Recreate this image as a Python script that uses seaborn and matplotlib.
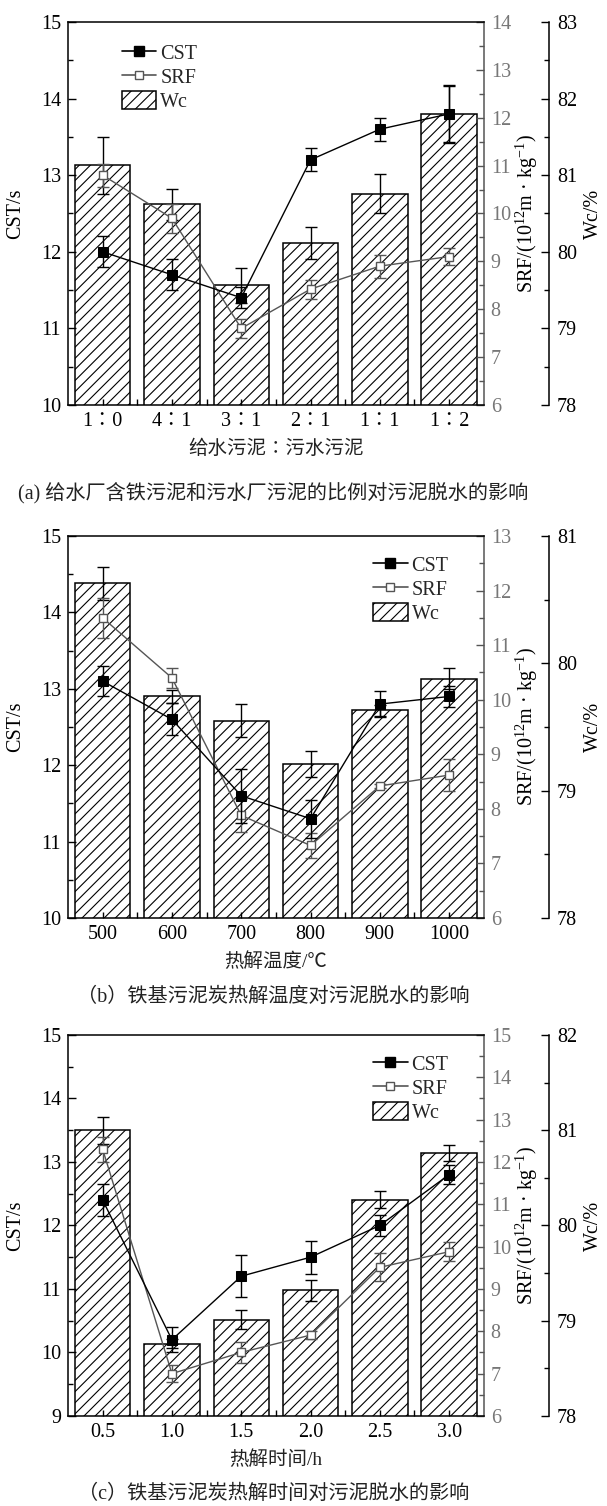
import numpy as np
import matplotlib
matplotlib.use('Agg')
import matplotlib.pyplot as plt
import seaborn as sns
from matplotlib.lines import Line2D
from matplotlib.patches import Patch
from matplotlib.ticker import MultipleLocator

sns.set_theme(style='ticks')
plt.rcParams['font.family'] = ['Liberation Serif', 'Noto Sans CJK SC']
plt.rcParams['mathtext.fontset'] = 'custom'
plt.rcParams['mathtext.rm'] = 'Liberation Serif'
plt.rcParams['mathtext.it'] = 'Liberation Serif:italic'
plt.rcParams['mathtext.default'] = 'rm'
plt.rcParams['hatch.linewidth'] = 0.8
plt.rcParams['hatch.color'] = 'black'

# (a) ratio of water-plant sludge to sewage sludge
ratio_cats = ['1∶0', '4∶1', '3∶1', '2∶1', '1∶1', '1∶2']
ratio_wc = [81.13, 80.62, 79.56, 80.11, 80.76, 81.80]
ratio_wc_err = [0.37, 0.20, 0.23, 0.21, 0.25, 0.38]
ratio_cst = [12.0, 11.7, 11.4, 13.2, 13.6, 13.8]
ratio_cst_err = [0.20, 0.20, 0.14, 0.15, 0.15, 0.37]
ratio_srf = [10.8, 9.9, 7.6, 8.42, 8.9, 9.1]
ratio_srf_err = [0.24, 0.30, 0.20, 0.20, 0.24, 0.17]

# (b) pyrolysis temperature
temp_cats = ['500', '600', '700', '800', '900', '1000']
temp_wc = [80.63, 79.74, 79.55, 79.21, 79.63, 79.88]
temp_wc_err = [0.13, 0.05, 0.13, 0.10, 0.04, 0.08]
temp_cst = [13.1, 12.6, 11.6, 11.3, 12.8, 12.9]
temp_cst_err = [0.20, 0.21, 0.35, 0.25, 0.17, 0.14]
temp_srf = [11.5, 10.4, 7.88, 7.33, 8.42, 8.62]
temp_srf_err = [0.37, 0.19, 0.30, 0.23, 0.03, 0.30]

# (c) pyrolysis time
time_cats = ['0.5', '1.0', '1.5', '2.0', '2.5', '3.0']
time_wc = [81.0, 78.76, 79.01, 79.32, 80.27, 80.76]
time_wc_err = [0.14, 0.05, 0.10, 0.11, 0.09, 0.08]
time_cst = [12.4, 10.2, 11.2, 11.5, 12.0, 12.8]
time_cst_err = [0.25, 0.20, 0.33, 0.26, 0.17, 0.15]
time_srf = [12.3, 7.0, 7.5, 7.91, 9.51, 9.88]
time_srf_err = [0.30, 0.20, 0.25, 0.10, 0.33, 0.22]

srf_color = '#555555'
fs = 14.5


def panel(rect, cats, wc, wc_err, cst, cst_err, srf, srf_err,
          cst_lim, srf_lim, wc_lim, xlabel, leg_loc, leg_anchor):
    ax = fig.add_axes(rect)
    ax_srf = ax.twinx()
    ax_wc = ax.twinx()
    pos = np.arange(len(cats))

    # bars (Wc) on the outer right axis
    sns.barplot(x=pos, y=wc, ax=ax_wc, native_scale=True, color='white', saturation=1,
                edgecolor='black', linewidth=1.1, hatch='///', errorbar=None, width=0.8)
    ax_wc.errorbar(pos, wc, yerr=wc_err, fmt='none', ecolor='black', elinewidth=1,
                   capsize=4, capthick=1)

    # SRF line
    ax_srf.errorbar(pos, srf, yerr=srf_err, fmt='none', ecolor=srf_color, elinewidth=1,
                    capsize=4, capthick=1, zorder=2)
    sns.lineplot(x=pos, y=srf, ax=ax_srf, color=srf_color, marker='s', markersize=5.5,
                 markerfacecolor='white', markeredgecolor=srf_color, markeredgewidth=1,
                 linewidth=1, sort=False, legend=False, zorder=3)

    # CST line
    ax.errorbar(pos, cst, yerr=cst_err, fmt='none', ecolor='black', elinewidth=1,
                capsize=4, capthick=1, zorder=2)
    sns.lineplot(x=pos, y=cst, ax=ax, color='black', marker='s', markersize=7,
                 markerfacecolor='black', markeredgecolor='black', linewidth=1,
                 sort=False, legend=False, zorder=3)

    ax_wc.set_zorder(1)
    ax_srf.set_zorder(2)
    ax.set_zorder(3)
    ax.patch.set_visible(False)
    ax_srf.patch.set_visible(False)
    ax_wc.patch.set_visible(False)

    ax.set_xlim(-0.5, len(cats) - 0.5)
    ax.set_xticks(pos)
    ax.set_xticks(pos[:-1] + 0.5, minor=True)
    ax.set_xticklabels(cats)
    ax.set_ylim(*cst_lim)
    ax_srf.set_ylim(*srf_lim)
    ax_wc.set_ylim(*wc_lim)

    ax.yaxis.set_major_locator(MultipleLocator(1))
    ax.yaxis.set_minor_locator(MultipleLocator(0.5))
    ax_srf.yaxis.set_major_locator(MultipleLocator(1))
    ax_srf.yaxis.set_minor_locator(MultipleLocator(0.5))
    ax_wc.yaxis.set_major_locator(MultipleLocator(1))
    ax_wc.yaxis.set_minor_locator(MultipleLocator(0.5))

    for s in ax.spines.values():
        s.set_color('black')
        s.set_linewidth(1.1)
    ax.spines['right'].set_visible(False)
    for name in ['left', 'top', 'bottom']:
        ax_srf.spines[name].set_visible(False)
        ax_wc.spines[name].set_visible(False)
    ax_srf.spines['right'].set_color(srf_color)
    ax_srf.spines['right'].set_linewidth(1.1)
    ax_wc.spines['right'].set_position(('axes', 1.156))
    ax_wc.spines['right'].set_color('black')
    ax_wc.spines['right'].set_linewidth(1.1)

    ax.tick_params(axis='y', which='major', direction='in', length=6, width=1,
                   labelsize=fs, pad=5, colors='black')
    ax.tick_params(axis='y', which='minor', direction='in', length=3.5, width=1, colors='black')
    ax.tick_params(axis='x', which='major', direction='in', length=4, width=1,
                   labelsize=fs, pad=5, colors='black')
    ax.tick_params(axis='x', which='minor', direction='in', length=4, width=1, colors='black')
    ax_srf.tick_params(axis='y', which='major', direction='in', length=6, width=1,
                       labelsize=fs, pad=5, colors=srf_color, labelcolor='#777777')
    ax_srf.tick_params(axis='y', which='minor', direction='in', length=3.5, width=1, colors=srf_color)
    ax_wc.tick_params(axis='y', which='major', direction='in', length=6, width=1,
                      labelsize=fs, pad=6, colors='black')
    ax_wc.tick_params(axis='y', which='minor', direction='in', length=3.5, width=1, colors='black')

    ax.set_xlabel(xlabel, fontsize=14, labelpad=6, color='#222222')
    ax.set_ylabel('CST/s', fontsize=fs, color='black')
    ax_srf.set_ylabel(r'SRF/(10$^{12}$m · kg$^{-1}$)', fontsize=fs, color='black')
    ax_wc.set_ylabel('Wc/%', fontsize=fs, color='black')
    ax.yaxis.set_label_coords(-0.125, 0.5)
    ax_srf.yaxis.set_label_coords(1.103, 0.5)
    ax_wc.yaxis.set_label_coords(1.264, 0.5)
    for lab in [ax.yaxis.label, ax_srf.yaxis.label, ax_wc.yaxis.label]:
        lab.set_verticalalignment('center')

    handles = [
        Line2D([], [], color='black', marker='s', markersize=7, linewidth=1.2, label='CST'),
        Line2D([], [], color=srf_color, marker='s', markersize=5.5, markerfacecolor='white',
               linewidth=1.2, label='SRF'),
        Patch(facecolor='white', edgecolor='black', hatch='///', linewidth=1.1, label='Wc'),
    ]
    ax.legend(handles=handles, loc=leg_loc, bbox_to_anchor=leg_anchor, frameon=False,
              fontsize=fs, handlelength=1.7, handleheight=1.0, handletextpad=0.2,
              labelspacing=0.15, borderpad=0.2, borderaxespad=0)
    return ax


fig = plt.figure(figsize=(6.07, 15.06), dpi=100)
fig.patch.set_facecolor('white')

panel([0.112, 0.7311, 0.685, 0.2543], ratio_cats, ratio_wc, ratio_wc_err,
      ratio_cst, ratio_cst_err, ratio_srf, ratio_srf_err,
      (10, 15), (6, 14), (78, 83), '给水污泥∶污水污泥', 'upper left', (0.12, 0.955))
panel([0.112, 0.3904, 0.685, 0.2537], temp_cats, temp_wc, temp_wc_err,
      temp_cst, temp_cst_err, temp_srf, temp_srf_err,
      (10, 15), (6, 13), (78, 81), '热解温度/℃', 'upper right', (0.925, 0.96))
panel([0.112, 0.0598, 0.685, 0.2530], time_cats, time_wc, time_wc_err,
      time_cst, time_cst_err, time_srf, time_srf_err,
      (9, 15), (6, 15), (78, 82), '热解时间/h', 'upper right', (0.925, 0.96))

fig.text(0.45, 0.673, '(a) 给水厂含铁污泥和污水厂污泥的比例对污泥脱水的影响',
         ha='center', va='center', fontsize=14.5, color='#222222')
fig.text(0.45, 0.338, '（b）铁基污泥炭热解温度对污泥脱水的影响',
         ha='center', va='center', fontsize=14.5, color='#222222')
fig.text(0.45, 0.0075, '（c）铁基污泥炭热解时间对污泥脱水的影响',
         ha='center', va='center', fontsize=14.5, color='#222222')

fig.savefig('out.png', dpi=100)
